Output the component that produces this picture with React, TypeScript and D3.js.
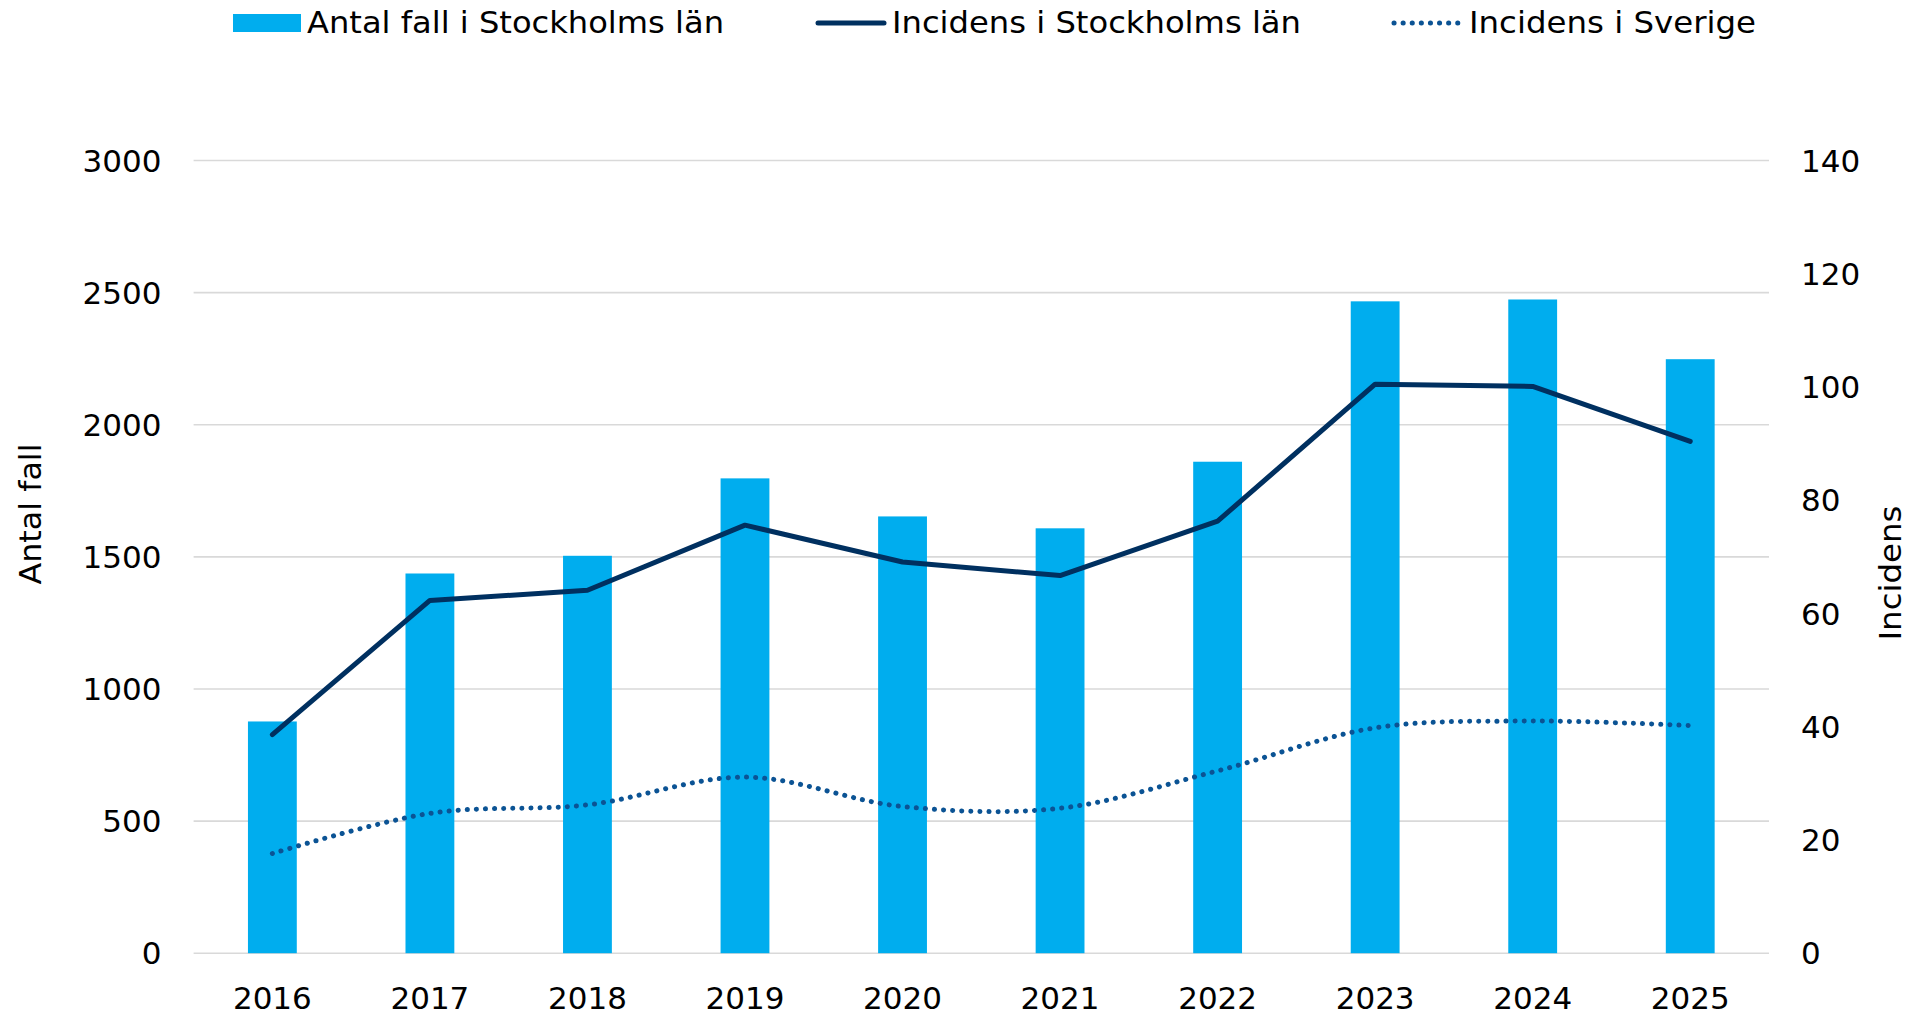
import React from "react";
import * as d3 from "d3";

const years = ["2016", "2017", "2018", "2019", "2020", "2021", "2022", "2023", "2024", "2025"];
const antalFall = [877, 1437, 1504, 1797, 1653, 1608, 1860, 2467, 2474, 2248];
const incidensSthlm = [38.6, 62.3, 64.1, 75.6, 69.1, 66.7, 76.3, 100.5, 100.1, 90.4];
const incidensSverige = [17.6, 24.7, 26.2, 31.1, 25.9, 25.6, 32.2, 39.8, 41.0, 40.2];
const leftTicks = [0, 500, 1000, 1500, 2000, 2500, 3000];
const rightTicks = [0, 20, 40, 60, 80, 100, 120, 140];
const legendLabels = ["Antal fall i Stockholms län", "Incidens i Stockholms län", "Incidens i Sverige"];

const W = 1921;
const H = 1015;
const FONT = "Verdana, 'DejaVu Sans', sans-serif";
const FS = 31;
const BAR = "#00adee";
const NAVY = "#003060";
const DOT = "#0b5394";

export default function App() {
  const x = d3.scaleBand<string>().domain(years).range([193.6, 1769]).paddingInner(0.69).paddingOuter(0.345);
  const yL = d3.scaleLinear().domain([0, 3000]).range([953.2, 160.5]);
  const yR = d3.scaleLinear().domain([0, 140]).range([953.2, 160.5]);
  const cx = (y: string) => (x(y) as number) + x.bandwidth() / 2;

  const solid = d3
    .line<number>()
    .x((_, i) => cx(years[i]))
    .y((d) => yR(d))(incidensSthlm) as string;
  const dotted = d3
    .line<number>()
    .x((_, i) => cx(years[i]))
    .y((d) => yR(d))
    .curve(d3.curveCatmullRom.alpha(0.5))(incidensSverige) as string;

  return (
    <svg
      width={W}
      height={H}
      style={{ position: "absolute", left: 0, top: 0, background: "#fff" }}
      fontFamily={FONT}
    >
      {leftTicks.map((t) => (
        <line key={t} x1={193.6} x2={1769} y1={yL(t)} y2={yL(t)} stroke="#d9d9d9" strokeWidth={1.6} />
      ))}
      {leftTicks.map((t) => (
        <text key={t} x={161.5} y={yL(t)} dy="0.36em" textAnchor="end" fontSize={FS} fill="#000">
          {t}
        </text>
      ))}
      {rightTicks.map((t) => (
        <text key={t} x={1801} y={yR(t)} dy="0.36em" textAnchor="start" fontSize={FS} fill="#000">
          {t}
        </text>
      ))}
      {antalFall.map((v, i) => (
        <rect key={years[i]} x={x(years[i])} y={yL(v)} width={x.bandwidth()} height={yL(0) - yL(v)} fill={BAR} />
      ))}
      <path d={dotted} fill="none" stroke={DOT} strokeWidth={5} strokeLinecap="round" strokeDasharray="0.1 9" />
      <path d={solid} fill="none" stroke={NAVY} strokeWidth={5} strokeLinejoin="round" strokeLinecap="round" />
      {years.map((y) => (
        <text key={y} x={cx(y)} y={1009} textAnchor="middle" fontSize={FS} fill="#000">
          {y}
        </text>
      ))}
      <text transform="translate(41,514) rotate(-90)" textAnchor="middle" fontSize={FS} fill="#000" textLength={141} lengthAdjust="spacingAndGlyphs">
        Antal fall
      </text>
      <text transform="translate(1901,573) rotate(-90)" textAnchor="middle" fontSize={FS} fill="#000" textLength={135} lengthAdjust="spacingAndGlyphs">
        Incidens
      </text>
      <rect x={233} y={14} width={68} height={18} fill={BAR} />
      <text x={307} y={33} fontSize={FS} fill="#000" textLength={417} lengthAdjust="spacingAndGlyphs">{legendLabels[0]}</text>
      <line x1={818} x2={884} y1={23} y2={23} stroke={NAVY} strokeWidth={5} strokeLinecap="round" />
      <text x={892} y={33} fontSize={FS} fill="#000" textLength={409} lengthAdjust="spacingAndGlyphs">{legendLabels[1]}</text>
      <line x1={1394} x2={1458} y1={23} y2={23} stroke={DOT} strokeWidth={5} strokeLinecap="round" strokeDasharray="0.1 9" />
      <text x={1469} y={33} fontSize={FS} fill="#000" textLength={287} lengthAdjust="spacingAndGlyphs">{legendLabels[2]}</text>
    </svg>
  );
}
